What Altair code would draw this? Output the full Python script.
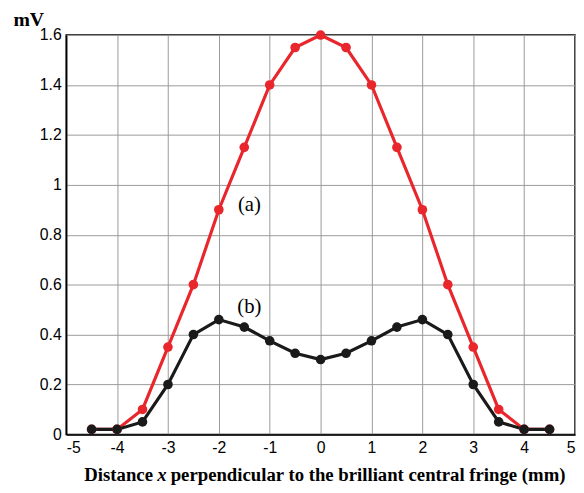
import altair as alt
import pandas as pd

xs = [-4.5, -4, -3.5, -3, -2.5, -2, -1.5, -1, -0.5, 0, 0.5, 1, 1.5, 2, 2.5, 3, 3.5, 4, 4.5]
series_a = [0.02, 0.02, 0.1, 0.35, 0.6, 0.9, 1.15, 1.4, 1.55, 1.6, 1.55, 1.4, 1.15, 0.9, 0.6, 0.35, 0.1, 0.02, 0.02]
series_b = [0.02, 0.02, 0.05, 0.2, 0.4, 0.46, 0.43, 0.375, 0.325, 0.3, 0.325, 0.375, 0.43, 0.46, 0.4, 0.2, 0.05, 0.02, 0.02]
labels = ["(a)", "(b)"]
label_x = [-1.4, -1.4]
label_y = [0.92, 0.51]
y_ticks = [0, 0.2, 0.4, 0.6, 0.8, 1, 1.2, 1.4, 1.6]
x_ticks = list(range(-5, 6))

df = pd.DataFrame({"x": xs * 2, "y": series_a + series_b,
                   "s": ["a"] * len(xs) + ["b"] * len(xs)})
lab = pd.DataFrame({"t": labels, "x": label_x, "y": label_y})

xsc = alt.Scale(domain=[-5, 5], nice=False)
ysc = alt.Scale(domain=[0, 1.6], nice=False)

xax = alt.Axis(values=x_ticks, title=None, grid=True, gridColor="#999",
               tickSize=0, labelFontSize=16, labelFont="Liberation Sans",
               labelExpr="replace(format(datum.value, '~g'), '\u2212', '-')",
               labelColor="black", labelPadding=5, domainColor="black", domainWidth=1.5)
yax = alt.Axis(values=y_ticks, title="mV",
               titleAngle=0, titleX=-54, titleY=-10, titleAlign="left", titleBaseline="alphabetic",
               titleFont="Liberation Serif", titleFontSize=20, titleFontWeight="bold",
               titleColor="black", grid=True, gridColor="#999",
               tickSize=0, labelFontSize=16, labelFont="Liberation Sans",
               labelColor="black", labelPadding=5, domainColor="black", domainWidth=1.5,
               format="~g")

lines = alt.Chart(df).mark_line(strokeWidth=3.2, point=alt.OverlayMarkDef(shape="circle", size=95, filled=True, opacity=1)).encode(
    x=alt.X("x:Q", scale=xsc, axis=xax),
    y=alt.Y("y:Q", scale=ysc, axis=yax),
    color=alt.Color("s:N", scale=alt.Scale(domain=["a", "b"], range=["#e8262b", "#1a1a1a"]), legend=None),
)

texts = alt.Chart(lab).mark_text(font="Liberation Serif", fontSize=21, color="black", align="center").encode(
    x=alt.X("x:Q", scale=xsc), y=alt.Y("y:Q", scale=ysc), text="t:N")

base = alt.Chart(pd.DataFrame({"d": [0]}))
ty = 446
t1 = base.mark_text(font="Liberation Serif", fontSize=19, fontWeight="bold", align="right", color="black").encode(
    x=alt.value(88), y=alt.value(ty), text=alt.value("Distance"))
t2 = base.mark_text(font="Liberation Serif", fontSize=19, fontWeight="bold", fontStyle="italic", align="center", color="black").encode(
    x=alt.value(97), y=alt.value(ty), text=alt.value("x"))
t3 = base.mark_text(font="Liberation Serif", fontSize=19, fontWeight="bold", align="left", color="black").encode(
    x=alt.value(106), y=alt.value(ty), text=alt.value("perpendicular to the brilliant central fringe (mm)"))

chart = alt.layer(lines, texts, t1, t2, t3).properties(
    width=516, height=405,
    autosize=alt.AutoSizeParams(type="none"),
    padding={"left": 59, "top": 24, "right": 1, "bottom": 56},
).configure_view(stroke="black", strokeWidth=1.5)

chart.save("out.html", embed_options={"renderer": "svg", "actions": False})
